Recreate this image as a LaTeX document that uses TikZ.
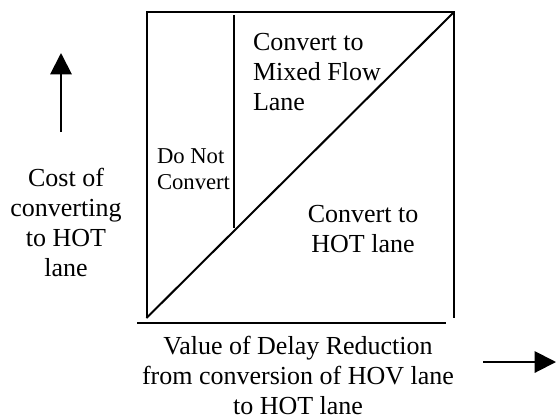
\documentclass[tikz,border=0pt]{standalone}
\usepackage{fontspec}
\setmainfont{Liberation Serif}
\usetikzlibrary{arrows.meta}

\tikzset{every picture/.style={line width=1.5pt}}
\tikzset{
  bigtxt/.style={font=\fontsize{19.5}{22.5}\selectfont, inner sep=0pt},
  smalltxt/.style={font=\fontsize{17}{19}\selectfont, inner sep=0pt, align=left},
  axisarrow/.style={-{Triangle[length=16pt,width=16pt]}}
}

\begin{document}
\begin{tikzpicture}[x=0.75pt,y=0.75pt,yscale=-1]
%frame of the picture
\useasboundingbox (0,0) rectangle (556,419);
%corners of the box
\coordinate (bl) at (146.5,318);
\coordinate (tl) at (146.5,12);
\coordinate (tr) at (454,12);
\coordinate (br) at (454,318);
%box without bottom side
\draw (bl) -- (tl) -- (tr) -- (br);
%diagonal
\draw (bl) -- (tr);
%divider
\coordinate (dtop) at (234,15);
\coordinate (dbot) at (234,228);
\draw (dtop) -- (dbot);
%x axis line
\coordinate (xa) at (137,323);
\coordinate (xb) at (446,323);
\draw (xa) -- (xb);
%region labels
\node[bigtxt, align=left, anchor=north west] (mixed) at (252,32) {Convert to\\Mixed Flow\\Lane};
\node[smalltxt, anchor=north west] (donot) at (156,148) {Do Not\\Convert};
\node[bigtxt, align=center] (hot) at (363,229) {Convert to\\HOT lane};
%axis labels
\node[bigtxt, align=center] (ylab) at (66,222) {Cost of\\converting\\to HOT\\lane};
\node[bigtxt, align=center] (xlab) at (298,375) {Value of Delay Reduction\\from conversion of HOV lane\\to HOT lane};
%arrows
\coordinate (ya) at (61,132);
\coordinate (yb) at (61,53);
\draw[axisarrow] (ya) -- (yb);
\coordinate (xc) at (483,362);
\coordinate (xd) at (556,362);
\draw[axisarrow] (xc) -- (xd);
\end{tikzpicture}
\end{document}
